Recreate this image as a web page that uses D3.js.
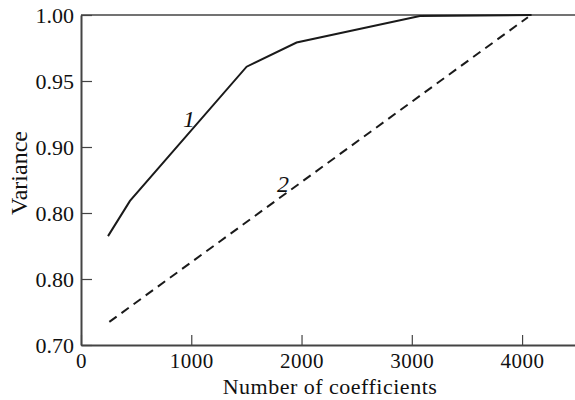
<!DOCTYPE html>
<html>
<head>
<meta charset="utf-8">
<script src="https://cdn.jsdelivr.net/npm/d3@7"></script>
<style>
body { margin: 0; background: #fff; }
text { font-family: "Liberation Serif", "DejaVu Serif", serif; }
</style>
</head>
<body>
<div id="chart"></div>
<script>
// curve 1 (solid) and curve 2 (dashed)
var curve1X = [245, 444, 1502, 1955, 3073, 4086];
var curve1Y = [0.799, 0.831, 0.953, 0.975, 0.999, 1.000];
var curve2X = [257, 4053];
var curve2Y = [0.721, 0.998];

var xTicks = [0, 1000, 2000, 3000, 4000];
var yTickValues = [0.70, 0.76, 0.82, 0.88, 0.94, 1.00];
var yTickLabels = ["0.70", "0.80", "0.80", "0.90", "0.95", "1.00"];

var width = 575, height = 400;
var margin = {left: 81, top: 15, right: 0, bottom: 55};

var svg = d3.select("#chart").append("svg")
    .attr("width", width)
    .attr("height", height);

var x = d3.scaleLinear().domain([0, 4480]).range([margin.left, width - margin.right]);
var y = d3.scaleLinear().domain([0.70, 1.00]).range([height - margin.bottom, margin.top]);

var axisColor = "#444";
var textColor = "#111";

// x axis (ticks pointing inward)
var gx = svg.append("g")
    .attr("transform", "translate(0," + y(0.70) + ")")
    .call(d3.axisBottom(x).tickValues(xTicks).tickFormat(d3.format("d"))
        .tickSizeInner(-10).tickSizeOuter(0));
gx.select(".domain").attr("stroke", axisColor).attr("stroke-width", 2);
gx.selectAll(".tick line").attr("stroke", axisColor).attr("stroke-width", 1.2);
gx.selectAll(".tick text").attr("font-size", 21).attr("fill", textColor)
    .attr("y", 23).attr("dy", 0).attr("letter-spacing", 0.5);

// y axis
var gy = svg.append("g")
    .attr("transform", "translate(" + x(0) + ",0)")
    .call(d3.axisLeft(y).tickValues(yTickValues)
        .tickFormat(function(d, i){ return yTickLabels[i]; })
        .tickSizeInner(-11).tickSizeOuter(0).tickPadding(7));
gy.select(".domain").attr("stroke", axisColor).attr("stroke-width", 2);
gy.selectAll(".tick line").attr("stroke", axisColor).attr("stroke-width", 1.2);
gy.selectAll(".tick text").attr("font-size", 22).attr("fill", textColor);

// top frame line
svg.append("line")
    .attr("x1", x(0)).attr("x2", width)
    .attr("y1", y(1.00)).attr("y2", y(1.00))
    .attr("stroke", axisColor).attr("stroke-width", 1.5);

var line = d3.line()
    .x(function(d){ return x(d[0]); })
    .y(function(d){ return y(d[1]); });

svg.append("path")
    .datum(d3.zip(curve1X, curve1Y))
    .attr("d", line)
    .attr("fill", "none")
    .attr("stroke", "#1a1a1a")
    .attr("stroke-width", 2);

svg.append("path")
    .datum(d3.zip(curve2X, curve2Y))
    .attr("d", line)
    .attr("fill", "none")
    .attr("stroke", "#1a1a1a")
    .attr("stroke-width", 2)
    .attr("stroke-dasharray", "9,6");

// curve labels
svg.append("text")
    .attr("x", x(979)).attr("y", y(0.906))
    .attr("text-anchor", "middle").attr("dy", "0.35em")
    .attr("font-size", 24).attr("font-style", "italic").attr("fill", textColor)
    .text("1");
svg.append("text")
    .attr("x", x(1831)).attr("y", y(0.847))
    .attr("text-anchor", "middle").attr("dy", "0.35em")
    .attr("font-size", 24).attr("font-style", "italic").attr("fill", textColor)
    .text("2");

// axis titles
svg.append("text")
    .attr("x", 330).attr("y", 394)
    .attr("text-anchor", "middle")
    .attr("font-size", 22).attr("letter-spacing", 0.5).attr("fill", textColor)
    .text("Number of coefficients");

svg.append("text")
    .attr("transform", "translate(27,173) rotate(-90)")
    .attr("text-anchor", "middle")
    .attr("font-size", 24).attr("fill", textColor)
    .text("Variance");
</script>
</body>
</html>
